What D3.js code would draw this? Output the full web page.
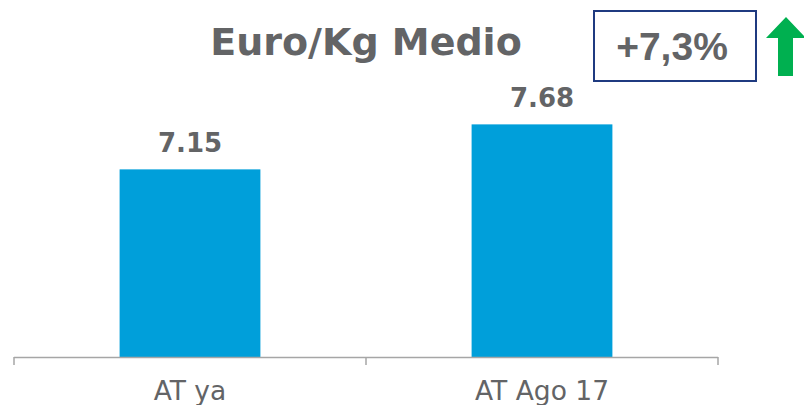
<!DOCTYPE html>
<html>
<head>
<meta charset="utf-8">
<script src="https://cdn.jsdelivr.net/npm/d3@7"></script>
<style>
  html, body { margin: 0; padding: 0; background: #fff; }
  svg { display: block; }
</style>
</head>
<body>
<svg id="chart" width="804" height="405"></svg>
<script>
const categories = ["AT ya", "AT Ago 17"];
const values = [7.15, 7.68];
const valueLabels = ["7.15", "7.68"];
const titleText = "Euro/Kg Medio";
const changeText = "+7,3%";

const svg = d3.select("#chart");
const gray = "#636466";

const x = d3.scaleBand()
  .domain(categories)
  .range([14, 718])
  .paddingInner(0.6)
  .paddingOuter(0.3);

const y = d3.scaleLinear()
  .domain([4.94, 8])
  .range([357, 357 - 3.06 * 84.9]);

// bars
svg.append("g").selectAll("rect")
  .data(values)
  .join("rect")
  .attr("x", (d, i) => x(categories[i]))
  .attr("y", d => y(d))
  .attr("width", x.bandwidth())
  .attr("height", d => y.range()[0] - y(d))
  .attr("fill", "#009FDA");

// value labels
svg.append("g").selectAll("text")
  .data(values)
  .join("text")
  .attr("x", (d, i) => x(categories[i]) + x.bandwidth() / 2)
  .attr("y", d => y(d) - 17)
  .attr("text-anchor", "middle")
  .attr("font-family", "DejaVu Sans")
  .attr("font-weight", "bold")
  .attr("font-size", 26)
  .attr("fill", gray)
  .text((d, i) => valueLabels[i]);

// x axis with boundary ticks
const axisG = svg.append("g").attr("transform", `translate(0,${y.range()[0]})`);
const [r0, r1] = x.range();
const step = x.step();
const boundaries = [r0, r0 + step, r1];
axisG.append("line")
  .attr("x1", r0).attr("x2", r1)
  .attr("y1", 0.5).attr("y2", 0.5)
  .attr("stroke", "#A6A6A6").attr("stroke-width", 1.5);
axisG.selectAll("line.tick")
  .data(boundaries)
  .join("line")
  .attr("class", "tick")
  .attr("x1", d => d).attr("x2", d => d)
  .attr("y1", 0).attr("y2", 8)
  .attr("stroke", "#A6A6A6").attr("stroke-width", 1.5);
axisG.selectAll("text")
  .data(categories)
  .join("text")
  .attr("x", d => x(d) + x.bandwidth() / 2)
  .attr("y", 43)
  .attr("text-anchor", "middle")
  .attr("font-family", "DejaVu Sans")
  .attr("font-size", 26.5)
  .attr("fill", gray)
  .text(d => d);

// title
svg.append("text")
  .attr("x", 366)
  .attr("y", 55)
  .attr("text-anchor", "middle")
  .attr("font-family", "DejaVu Sans")
  .attr("font-weight", "bold")
  .attr("font-size", 38)
  .attr("fill", gray)
  .text(titleText);

// change box
svg.append("rect")
  .attr("x", 594).attr("y", 11)
  .attr("width", 162).attr("height", 70)
  .attr("fill", "#fff")
  .attr("stroke", "#1F3A80")
  .attr("stroke-width", 2);
svg.append("text")
  .attr("x", 672)
  .attr("y", 60)
  .attr("text-anchor", "middle")
  .attr("font-family", "Liberation Sans, Arial, sans-serif")
  .attr("font-weight", "bold")
  .attr("font-size", 39)
  .attr("fill", gray)
  .text(changeText);

// up arrow
svg.append("path")
  .attr("d", "M786,17 L806,38 L793,38 L793,76 L778,76 L778,38 L766,38 Z")
  .attr("fill", "#00B050");
</script>
</body>
</html>
